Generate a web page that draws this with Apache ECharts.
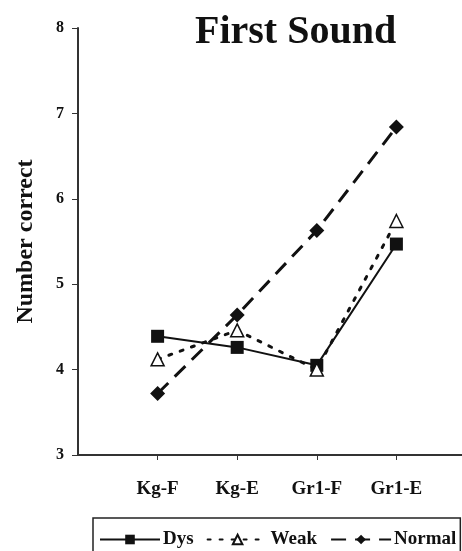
<!DOCTYPE html>
<html>
<head>
<meta charset="utf-8">
<script src="https://cdn.jsdelivr.net/npm/echarts@6/dist/echarts.min.js"></script>
<style>
  html, body { margin: 0; padding: 0; background: #fff; }
  #chart { width: 462px; height: 551px; }
</style>
</head>
<body>
<div id="chart"></div>
<script>
// categories (padded with empty slots so the axis runs past the first/last point)
var categories = ['Kg-F', 'Kg-E', 'Gr1-F', 'Gr1-E'];
var dys = [4.39, 4.26, 4.05, 5.47];
var weak = [4.12, 4.46, 4.00, 5.74];
var normal = [3.72, 4.64, 5.63, 6.84];
var yTicks = [3, 4, 5, 6, 7, 8];

var serif = 'Liberation Serif';
var ink = '#111';

function pad(arr) {
  return [null].concat(arr, [null]);
}

var chart = echarts.init(document.getElementById('chart'));
var option = {
  backgroundColor: '#fff',
  animation: false,
  title: {
    text: 'First Sound',
    left: 190,
    top: 8,
    textStyle: { fontFamily: serif, fontSize: 40, fontWeight: 'bold', color: ink }
  },
  grid: { left: 78, top: 28, bottom: 96, right: -14, outerBoundsMode: 'none', containLabel: false },
  legend: {
    left: 93,
    top: 518,
    padding: [12, 4, 8, 6],
    itemGap: 13,
    itemWidth: 60,
    itemHeight: 12,
    borderColor: '#222',
    borderWidth: 1.5,
    borderRadius: 0,
    textStyle: { fontFamily: serif, fontSize: 19, fontWeight: 'bold', color: ink, padding: [0, 0, 0, -2] },
    data: ['Dys', 'Weak', 'Normal']
  },
  xAxis: {
    type: 'category',
    boundaryGap: false,
    data: pad(categories).map(function (c) { return c || ''; }),
    axisLine: { lineStyle: { color: '#333', width: 2 } },
    axisTick: {
      length: 5,
      lineStyle: { color: '#333' },
      interval: function (i, v) { return v !== ''; }
    },
    axisLabel: {
      margin: 25,
      fontFamily: serif, fontSize: 19, fontWeight: 'bold', color: ink,
      interval: 0
    },
    splitLine: { show: false }
  },
  yAxis: {
    type: 'value',
    min: yTicks[0],
    max: yTicks[yTicks.length - 1],
    interval: 1,
    name: 'Number correct',
    nameLocation: 'middle',
    nameRotate: 90,
    nameGap: 40,
    nameTextStyle: { fontFamily: serif, fontSize: 24, fontWeight: 'bold', color: ink },
    axisLine: { show: true, lineStyle: { color: '#333', width: 2 } },
    axisTick: { show: true, length: 6, lineStyle: { color: '#333' } },
    axisLabel: { margin: 14, fontFamily: serif, fontSize: 16, fontWeight: 'bold', color: ink },
    splitLine: { show: false }
  },
  series: [
    {
      name: 'Dys',
      type: 'line',
      data: pad(dys),
      symbol: 'rect',
      symbolSize: 13,
      itemStyle: { color: ink },
      lineStyle: { color: ink, width: 2, type: 'solid' },
      z: 3
    },
    {
      name: 'Weak',
      type: 'line',
      data: pad(weak),
      symbol: 'triangle',
      symbolSize: 13,
      itemStyle: { color: '#fff', borderColor: ink, borderWidth: 1.5 },
      lineStyle: { color: ink, width: 3, type: [3, 9], cap: 'round' },
      z: 4
    },
    {
      name: 'Normal',
      type: 'line',
      data: pad(normal),
      symbol: 'diamond',
      symbolSize: 15,
      itemStyle: { color: ink },
      lineStyle: { color: ink, width: 3, type: [15, 9] },
      z: 2
    }
  ]
};
chart.setOption(option);
</script>
</body>
</html>
